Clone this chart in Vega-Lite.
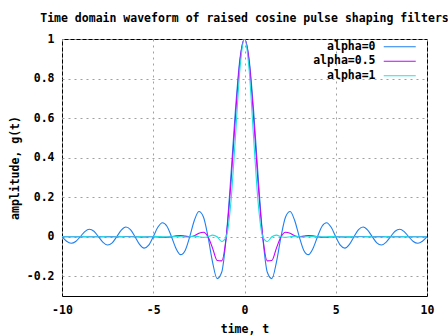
{
  "$schema": "https://vega.github.io/schema/vega-lite/v6.json",
  "width": 365,
  "height": 257,
  "autosize": {"type": "none"},
  "padding": {"left": 62, "top": 39, "right": 21, "bottom": 40},
  "background": "white",
  "config": {
    "font": "DejaVu Sans Mono",
    "view": {"stroke": "black", "strokeWidth": 1},
    "axis": {
      "labelFont": "DejaVu Sans Mono",
      "labelFontWeight": "bold",
      "labelFontSize": 11.5,
      "labelColor": "black",
      "titleFont": "DejaVu Sans Mono",
      "titleFontWeight": "bold",
      "titleFontSize": 11.5,
      "titleColor": "black",
      "domain": false,
      "ticks": false,
      "grid": true,
      "gridColor": "#a0a0a0",
      "gridDash": [2, 4],
      "gridWidth": 1,
      "gridOpacity": 1,
      "labelFlush": false,
      "labelOverlap": false
    }
  },
  "title": {
    "text": "Time domain waveform of raised cosine pulse shaping filters",
    "font": "DejaVu Sans Mono",
    "fontWeight": "bold",
    "fontSize": 11.5,
    "color": "black",
    "anchor": "middle",
    "offset": 9
  },
  "data": {
    "values": [
      {"t": -10, "a0": 0, "a05": 0, "a1": 0},
      {"t": -9.75, "a0": -0.0231, "a05": -0.0002, "a1": 0},
      {"t": -9.5, "a0": -0.0335, "a05": -0.0003, "a1": 0},
      {"t": -9.25, "a0": -0.0243, "a05": -0.0001, "a1": 0},
      {"t": -9, "a0": 0, "a05": 0, "a1": 0},
      {"t": -8.75, "a0": 0.0257, "a05": -0.0001, "a1": 0.0001},
      {"t": -8.5, "a0": 0.0375, "a05": -0.0004, "a1": 0},
      {"t": -8.25, "a0": 0.0273, "a05": -0.0004, "a1": -0.0001},
      {"t": -8, "a0": 0, "a05": 0, "a1": 0},
      {"t": -7.75, "a0": -0.029, "a05": 0.0005, "a1": 0.0001},
      {"t": -7.5, "a0": -0.0424, "a05": 0.0005, "a1": 0},
      {"t": -7.25, "a0": -0.0311, "a05": 0.0002, "a1": -0.0001},
      {"t": -7, "a0": 0, "a05": 0, "a1": 0},
      {"t": -6.75, "a0": 0.0334, "a05": 0.0003, "a1": 0.0001},
      {"t": -6.5, "a0": 0.049, "a05": 0.0008, "a1": 0},
      {"t": -6.25, "a0": 0.036, "a05": 0.0009, "a1": -0.0002},
      {"t": -6, "a0": 0, "a05": 0, "a1": 0},
      {"t": -5.75, "a0": -0.0391, "a05": -0.0011, "a1": 0.0002},
      {"t": -5.5, "a0": -0.0579, "a05": -0.0014, "a1": 0},
      {"t": -5.25, "a0": -0.0429, "a05": -0.0006, "a1": -0.0003},
      {"t": -5, "a0": 0, "a05": 0, "a1": 0},
      {"t": -4.75, "a0": 0.0474, "a05": -0.0008, "a1": 0.0004},
      {"t": -4.5, "a0": 0.0707, "a05": -0.0026, "a1": 0},
      {"t": -4.25, "a0": 0.053, "a05": -0.0029, "a1": -0.0005},
      {"t": -4, "a0": 0, "a05": 0, "a1": 0},
      {"t": -3.75, "a0": -0.06, "a05": 0.0043, "a1": 0.0008},
      {"t": -3.5, "a0": -0.0909, "a05": 0.0057, "a1": 0},
      {"t": -3.25, "a0": -0.0693, "a05": 0.0028, "a1": -0.0012},
      {"t": -3, "a0": 0, "a05": 0, "a1": 0},
      {"t": -2.75, "a0": 0.0819, "a05": 0.0048, "a1": 0.002},
      {"t": -2.5, "a0": 0.1273, "a05": 0.0172, "a1": 0},
      {"t": -2.25, "a0": 0.1, "a05": 0.0228, "a1": -0.0037},
      {"t": -2, "a0": 0, "a05": 0, "a1": 0},
      {"t": -1.75, "a0": -0.1286, "a05": -0.0576, "a1": 0.0081},
      {"t": -1.5, "a0": -0.2122, "a05": -0.1201, "a1": 0},
      {"t": -1.25, "a0": -0.1801, "a05": -0.1225, "a1": -0.0243},
      {"t": -1, "a0": 0, "a05": 0, "a1": 0},
      {"t": -0.75, "a0": 0.3001, "a05": 0.2625, "a1": 0.1698},
      {"t": -0.5, "a0": 0.6366, "a05": 0.6002, "a1": 0.5},
      {"t": -0.25, "a0": 0.9003, "a05": 0.8872, "a1": 0.8488},
      {"t": 0, "a0": 1, "a05": 1, "a1": 1},
      {"t": 0.25, "a0": 0.9003, "a05": 0.8872, "a1": 0.8488},
      {"t": 0.5, "a0": 0.6366, "a05": 0.6002, "a1": 0.5},
      {"t": 0.75, "a0": 0.3001, "a05": 0.2625, "a1": 0.1698},
      {"t": 1, "a0": 0, "a05": 0, "a1": 0},
      {"t": 1.25, "a0": -0.1801, "a05": -0.1225, "a1": -0.0243},
      {"t": 1.5, "a0": -0.2122, "a05": -0.1201, "a1": 0},
      {"t": 1.75, "a0": -0.1286, "a05": -0.0576, "a1": 0.0081},
      {"t": 2, "a0": 0, "a05": 0, "a1": 0},
      {"t": 2.25, "a0": 0.1, "a05": 0.0228, "a1": -0.0037},
      {"t": 2.5, "a0": 0.1273, "a05": 0.0172, "a1": 0},
      {"t": 2.75, "a0": 0.0819, "a05": 0.0048, "a1": 0.002},
      {"t": 3, "a0": 0, "a05": 0, "a1": 0},
      {"t": 3.25, "a0": -0.0693, "a05": 0.0028, "a1": -0.0012},
      {"t": 3.5, "a0": -0.0909, "a05": 0.0057, "a1": 0},
      {"t": 3.75, "a0": -0.06, "a05": 0.0043, "a1": 0.0008},
      {"t": 4, "a0": 0, "a05": 0, "a1": 0},
      {"t": 4.25, "a0": 0.053, "a05": -0.0029, "a1": -0.0005},
      {"t": 4.5, "a0": 0.0707, "a05": -0.0026, "a1": 0},
      {"t": 4.75, "a0": 0.0474, "a05": -0.0008, "a1": 0.0004},
      {"t": 5, "a0": 0, "a05": 0, "a1": 0},
      {"t": 5.25, "a0": -0.0429, "a05": -0.0006, "a1": -0.0003},
      {"t": 5.5, "a0": -0.0579, "a05": -0.0014, "a1": 0},
      {"t": 5.75, "a0": -0.0391, "a05": -0.0011, "a1": 0.0002},
      {"t": 6, "a0": 0, "a05": 0, "a1": 0},
      {"t": 6.25, "a0": 0.036, "a05": 0.0009, "a1": -0.0002},
      {"t": 6.5, "a0": 0.049, "a05": 0.0008, "a1": 0},
      {"t": 6.75, "a0": 0.0334, "a05": 0.0003, "a1": 0.0001},
      {"t": 7, "a0": 0, "a05": 0, "a1": 0},
      {"t": 7.25, "a0": -0.0311, "a05": 0.0002, "a1": -0.0001},
      {"t": 7.5, "a0": -0.0424, "a05": 0.0005, "a1": 0},
      {"t": 7.75, "a0": -0.029, "a05": 0.0005, "a1": 0.0001},
      {"t": 8, "a0": 0, "a05": 0, "a1": 0},
      {"t": 8.25, "a0": 0.0273, "a05": -0.0004, "a1": -0.0001},
      {"t": 8.5, "a0": 0.0375, "a05": -0.0004, "a1": 0},
      {"t": 8.75, "a0": 0.0257, "a05": -0.0001, "a1": 0.0001},
      {"t": 9, "a0": 0, "a05": 0, "a1": 0},
      {"t": 9.25, "a0": -0.0243, "a05": -0.0001, "a1": 0},
      {"t": 9.5, "a0": -0.0335, "a05": -0.0003, "a1": 0},
      {"t": 9.75, "a0": -0.0231, "a05": -0.0002, "a1": 0},
      {"t": 10, "a0": 0, "a05": 0, "a1": 0}
    ]
  },
  "transform": [
    {"fold": ["a0", "a05", "a1"], "as": ["series", "g"]}
  ],
  "mark": {"type": "line", "interpolate": "monotone", "strokeWidth": 1.1, "clip": true},
  "encoding": {
    "x": {
      "field": "t",
      "type": "quantitative",
      "scale": {"domain": [-10, 10], "nice": false, "zero": false},
      "axis": {
        "title": "time, t",
        "values": [-10, -5, 0, 5, 10],
        "labelExpr": "datum.value < 0 ? '-' + format(-datum.value, '~g') : format(datum.value, '~g')",
        "labelPadding": 8,
        "titlePadding": 8
      }
    },
    "y": {
      "field": "g",
      "type": "quantitative",
      "scale": {"domain": [-0.3, 1], "nice": false, "zero": false},
      "axis": {
        "title": "amplitude, g(t)",
        "values": [-0.2, 0, 0.2, 0.4, 0.6, 0.8, 1],
        "labelExpr": "datum.value < 0 ? '-' + format(-datum.value, '~g') : format(datum.value, '~g')",
        "labelPadding": 8,
        "titlePadding": 6
      }
    },
    "color": {
      "field": "series",
      "type": "nominal",
      "scale": {"domain": ["a0", "a05", "a1"], "range": ["#1e7ff0", "#c400ff", "#20e0e0"]},
      "legend": {
        "title": null,
        "orient": "none",
        "legendX": 332,
        "legendY": 2,
        "labelExpr": "datum.label == 'a0' ? 'alpha=0' : datum.label == 'a05' ? 'alpha=0.5' : 'alpha=1'",
        "labelFont": "DejaVu Sans Mono",
        "labelFontWeight": "bold",
        "labelFontSize": 11.5,
        "labelColor": "black",
        "labelAlign": "right",
        "labelOffset": -30,
        "symbolType": "M-4,0H4",
        "symbolSize": 64,
        "symbolStrokeWidth": 1.1,
        "rowPadding": 1.5
      }
    }
  }
}
